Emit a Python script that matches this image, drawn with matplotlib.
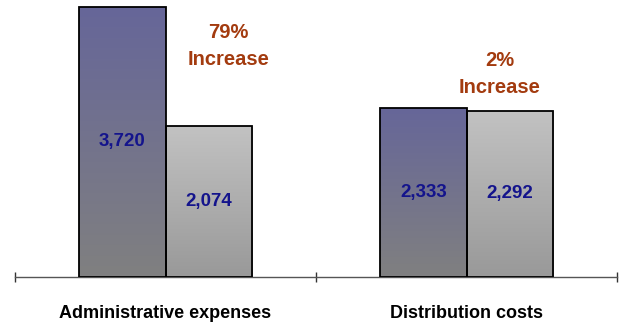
import matplotlib.pyplot as plt
import numpy as np
from matplotlib.colors import LinearSegmentedColormap

plt.rcParams["font.family"] = ["Liberation Sans Narrow", "Liberation Sans", "DejaVu Sans"]

categories = ["Administrative expenses", "Distribution costs"]
current = [3720, 2333]
previous = [2074, 2292]
increase_labels = ["79%\nIncrease", "2%\nIncrease"]

W, H = 619, 328
fig = plt.figure(figsize=(W / 100, H / 100), dpi=100)
ax = fig.add_axes([15 / W, 1 - 277 / H, 602 / W, 277 / H])

bar_w = 0.286
x = np.arange(len(categories))
cmap_cur = LinearSegmentedColormap.from_list("cur", ["#808080", "#666699"])
cmap_prev = LinearSegmentedColormap.from_list("prev", ["#999999", "#c2c2c2"])
grad = np.linspace(0, 1, 256).reshape(-1, 1)


def gradient_bars(xs, heights, cmap):
    bars = ax.bar(xs, heights, width=bar_w, color="none", edgecolor="black",
                  linewidth=1.3, zorder=3)
    for b in bars:
        x0, y0 = b.get_x(), b.get_y()
        im = ax.imshow(grad, cmap=cmap, origin="lower", aspect="auto",
                       extent=(x0, x0 + b.get_width(), y0, y0 + b.get_height()),
                       zorder=2)
        im.set_clip_path(b)
    return bars


b1 = gradient_bars(x - bar_w / 2, current, cmap_cur)
b2 = gradient_bars(x + bar_w / 2, previous, cmap_prev)

for bars, vals in ((b1, current), (b2, previous)):
    for b, v in zip(bars, vals):
        ax.text(b.get_x() + b.get_width() / 2, v / 2, f"{v:,}", ha="center",
                va="center", fontsize=13.5, fontweight="bold", color="#14148c",
                zorder=4)

# annotation placement (offset from group centre, height in data units)
ann_dx = [0.21, 0.11]
ann_y = [3180, 2800]
for i, lab in enumerate(increase_labels):
    ax.text(x[i] + ann_dx[i], ann_y[i], lab, ha="center", va="center",
            fontsize=14.5, fontweight="bold", color="#a33b0f", linespacing=1.55)

ax.set_xlim(-0.5, 1.5)
ax.set_ylim(0, 3815)
ax.set_yticks([])
for s in ("left", "right", "top"):
    ax.spines[s].set_visible(False)
ax.spines["bottom"].set_color("#555555")
ax.spines["bottom"].set_linewidth(1.0)
ax.set_xticks([-0.5, 0.5, 1.5])
ax.set_xticklabels([])
ax.tick_params(axis="x", length=7, width=1, color="#333333", direction="inout")
for i, c in enumerate(categories):
    ax.text(x[i], -0.13, c, transform=ax.get_xaxis_transform(), ha="center",
            va="center", fontsize=13, fontweight="bold", color="black")

fig.savefig("out.png", dpi=100)
